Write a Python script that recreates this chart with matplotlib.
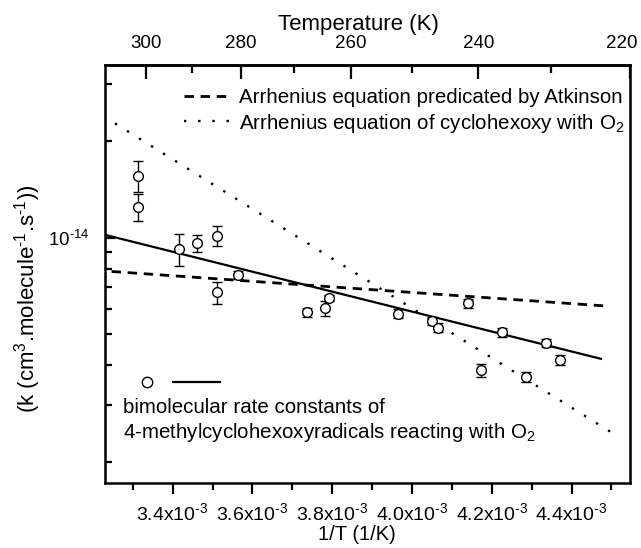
import numpy as np
import matplotlib
matplotlib.use("Agg")
import matplotlib.pyplot as plt
import matplotlib.transforms as mtransforms
from matplotlib.ticker import FixedLocator, FuncFormatter, NullFormatter, LogLocator

plt.rcParams['font.family'] = ['Liberation Sans', 'DejaVu Sans']
plt.rcParams['mathtext.fontset'] = 'custom'
plt.rcParams['mathtext.rm'] = 'Liberation Sans'
plt.rcParams['mathtext.it'] = 'Liberation Sans:italic'
plt.rcParams['mathtext.default'] = 'regular'

# ---- data (1/T in 1/K, k in cm3 molecule-1 s-1) ----
inv_T = np.array([3.314, 3.314, 3.416, 3.460, 3.512, 3.512, 3.565, 3.737, 3.782, 3.793,
                  3.966, 4.050, 4.066, 4.141, 4.225, 4.335, 4.372, 4.172, 4.287]) * 1e-3
k_obs = np.array([15.56, 12.49, 9.20, 9.61, 10.14, 6.74, 7.64, 5.84, 6.03, 6.47,
                  5.79, 5.50, 5.24, 6.25, 5.06, 4.69, 4.16, 3.85, 3.67]) * 1e-15
k_err = np.array([1.70, 1.20, 1.05, 0.60, 0.75, 0.55, 0.22, 0.20, 0.33, 0.15,
                  0.18, 0.15, 0.18, 0.20, 0.15, 0.12, 0.15, 0.18, 0.13]) * 1e-15

# Arrhenius fit of this work: k = A exp(-E/T)
fit_A, fit_E = 1.03e-13, 716.0
fit_range = (3.2305e-3, 4.476e-3)
# Atkinson estimate
atk_A, atk_E = 1.5e-14, 200.0
atk_range = (3.247e-3, 4.488e-3)
# cyclohexoxy + O2
cyc_A, cyc_E = 7.53e-12, 1783.0
cyc_range = (3.2555e-3, 4.514e-3)

x_major = [3.4e-3, 3.6e-3, 3.8e-3, 4.0e-3, 4.2e-3, 4.4e-3]
x_minor = [3.3e-3, 3.5e-3, 3.7e-3, 3.9e-3, 4.1e-3, 4.3e-3, 4.5e-3]
T_major = [300, 280, 260, 240, 220]
T_minor = [290, 270, 250, 230]

xlim = (3.2305e-3, 1 / 220)
ylim = (1.72e-15, 3.45e-14)

FS = 14.8

fig = plt.figure(figsize=(6.41, 5.48), dpi=100)
ax = fig.add_axes([105 / 641, 1 - 482.7 / 548, 524.6 / 641, 417.7 / 548])
ax.set_yscale('log')
ax.set_xlim(*xlim)
ax.set_ylim(*ylim)

def arr(A, E, rng):
    x = np.linspace(rng[0], rng[1], 100)
    return x, A * np.exp(-E * x)

xa, ya = arr(atk_A, atk_E, atk_range)
ax.plot(xa, ya, color='black', lw=2.0, linestyle=(0, (3.4, 2.4)),
        label='Arrhenius equation predicated by Atkinson')
xc, yc = arr(cyc_A, cyc_E, cyc_range)
ax.plot(xc, yc, color='black', lw=1.7, linestyle=(0, (1, 5.0)),
        label='Arrhenius equation of cyclohexoxy with O$_2$')
xf, yf = arr(fit_A, fit_E, fit_range)
ax.plot(xf, yf, color='black', lw=1.6, solid_capstyle='butt')

ax.errorbar(inv_T, k_obs, yerr=k_err, fmt='o', mfc='white', mec='black', mew=1.0,
            ms=7, ecolor='black', elinewidth=1.0, capsize=3.4, capthick=1.0, zorder=5)

# ticks
for s in ax.spines.values():
    s.set_linewidth(1.8)
ax.xaxis.set_major_locator(FixedLocator(x_major))
ax.xaxis.set_minor_locator(FixedLocator(x_minor))
ax.xaxis.set_major_formatter(FuncFormatter(lambda v, p: f'{v*1e3:.1f}x10$^{{\\text{{-}}3}}$'))
ax.tick_params(axis='x', which='major', direction='out', length=8, width=1.6,
               labelsize=14, pad=6, top=False)
ax.tick_params(axis='x', which='minor', direction='out', length=5, width=1.6, top=False)
ax.yaxis.set_major_locator(FixedLocator([1e-14]))
ax.yaxis.set_major_formatter(FuncFormatter(lambda v, p: '10$^{\\text{-}14}$'))
ax.yaxis.set_minor_locator(LogLocator(base=10, subs=np.arange(2, 10)))
ax.yaxis.set_minor_formatter(NullFormatter())
ax.tick_params(axis='y', which='major', direction='in', length=7, width=1.6,
               labelsize=13.5, pad=11, right=False)
ax.tick_params(axis='y', which='minor', direction='in', length=5, width=1.6, right=False)

sec = ax.secondary_xaxis('top', functions=(lambda x: 1 / np.where(x == 0, 1e-12, x),
                                           lambda t: 1 / np.where(t == 0, 1e-12, t)))
sec.xaxis.set_major_locator(FixedLocator(T_major))
sec.xaxis.set_minor_locator(FixedLocator(T_minor))
sec.xaxis.set_major_formatter(FuncFormatter(lambda v, p: f'{v:.0f}'))
sec.tick_params(which='major', direction='in', length=10, width=1.6, labelsize=13.5, pad=9)
sec.tick_params(which='minor', direction='in', length=6, width=1.6)
sec.spines['top'].set_linewidth(1.8)
sec.set_xlabel('Temperature (K)', fontsize=16, labelpad=4)
sec.xaxis.label.set_x(0.483)

ax.set_xlabel('1/T (1/K)', fontsize=14.5)
ax.xaxis.set_label_coords(0.48, -0.125)
ax.xaxis.label.set_va('center')
ax.set_ylabel('(k (cm$^3$.molecule$^{\\text{-}1}$.s$^{\\text{-}1}$))', fontsize=16)
ax.yaxis.set_label_coords(-0.119, 0.44)

leg = ax.legend(loc='upper right', bbox_to_anchor=(0.991, 0.944), frameon=False,
                fontsize=FS, handlelength=2.3, handletextpad=0.4, labelspacing=0.2,
                borderaxespad=0.0, borderpad=0.0)

# bottom-left key
ax.plot([0.0795], [0.2418], 'o', mfc='white', mec='black', mew=1.0, ms=7.5,
        transform=ax.transAxes, clip_on=False)
ax.plot([0.129, 0.219], [0.240, 0.240], '-', color='black', lw=1.6,
        transform=ax.transAxes)
ax.text(0.0343, 0.179, 'bimolecular rate constants of', transform=ax.transAxes,
        fontsize=FS, va='center', ha='left')
ax.text(0.0343, 0.119, '4-methylcyclohexoxyradicals reacting with O$_2$',
        transform=ax.transAxes, fontsize=FS, va='center', ha='left')

fig.canvas.draw()
# shift the last top tick label (220) inward so it stays on the canvas
labels = sec.xaxis.get_majorticklabels()
if labels:
    last = labels[-1]
    last.set_transform(last.get_transform() +
                       mtransforms.ScaledTranslation(-8 / 100, 0, fig.dpi_scale_trans))

fig.savefig('out.png', dpi=100)
